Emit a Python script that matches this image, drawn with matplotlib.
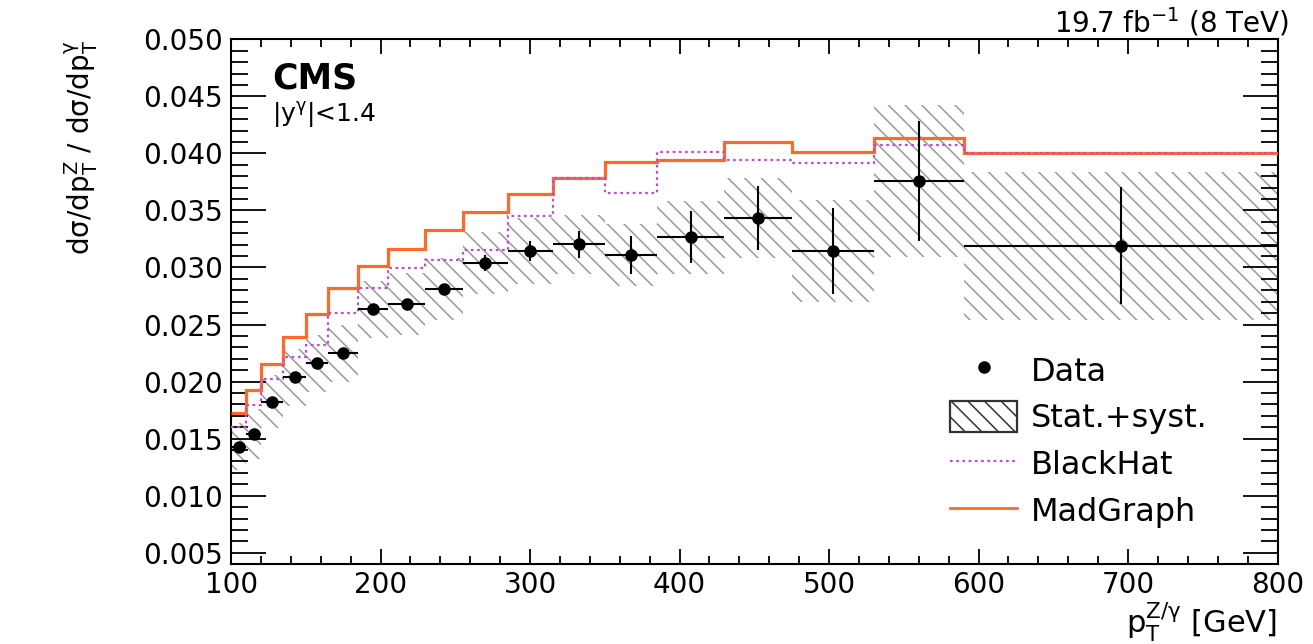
import numpy as np
import matplotlib
matplotlib.use("Agg")
import matplotlib.pyplot as plt
from matplotlib.lines import Line2D
from matplotlib.patches import Patch
from matplotlib.ticker import MultipleLocator, FormatStrFormatter

# pT^{Z/gamma} bin edges [GeV]
edges = [100, 110, 120, 135, 150, 165, 185, 205, 230, 255, 285,
         315, 350, 385, 430, 475, 530, 590, 800]

# ratio dsigma/dpT^Z / dsigma/dpT^gamma, per bin
data = [0.01431, 0.01542, 0.01825, 0.02039, 0.02161, 0.02249, 0.02634, 0.02681,
        0.02809, 0.03037, 0.03145, 0.03203, 0.03110, 0.03265, 0.03431, 0.03145,
        0.03758, 0.03191]
data_stat = [0.0003, 0.0003, 0.0003, 0.0003, 0.0003, 0.0004, 0.0005, 0.0004,
             0.0005, 0.0007, 0.0009, 0.0012, 0.0017, 0.0023, 0.0028, 0.0038,
             0.0053, 0.0051]
data_tot = [0.0021, 0.0022, 0.0023, 0.0025, 0.0025, 0.0025, 0.0025, 0.0027,
            0.0027, 0.0027, 0.0029, 0.0026, 0.0027, 0.0032, 0.0035, 0.0045,
            0.0067, 0.0065]
blackhat = [0.01606, 0.01796, 0.02021, 0.02214, 0.02321, 0.02599, 0.02822, 0.02996,
            0.03066, 0.03150, 0.03450, 0.03787, 0.03650, 0.04009, 0.03942, 0.03915,
            0.04070, 0.04000]
madgraph = [0.01723, 0.01927, 0.02152, 0.02394, 0.02590, 0.02818, 0.03013, 0.03159,
            0.03329, 0.03489, 0.03644, 0.03787, 0.03921, 0.03939, 0.04096, 0.04009,
            0.04131, 0.04003]

ORANGE = "#ff6a2a"
PURPLE = "#b84fcc"
HATCH = "#999999"

plt.rcParams.update({"font.family": "DejaVu Sans", "mathtext.default": "regular",
                     "hatch.linewidth": 1.1, "axes.linewidth": 1.5})

fig = plt.figure(figsize=(13.13, 6.44), dpi=100)
ax = fig.add_axes([0.176, 0.124, 0.797, 0.815])

e = np.array(edges, dtype=float)
lo, hi = e[:-1], e[1:]
ctr, half = 0.5 * (lo + hi), 0.5 * (hi - lo)
val, tot = np.array(data), np.array(data_tot)

# stat+syst band
ax.bar(lo, 2 * tot, bottom=val - tot, width=hi - lo, align="edge", color="none",
       edgecolor=HATCH, hatch=r"\\", linewidth=0, zorder=1)
ax.stairs(madgraph, edges, baseline=None, color=ORANGE, lw=2.3, zorder=3)
ax.stairs(blackhat, edges, baseline=None, color=PURPLE, lw=1.6,
          ls=(0, (1.2, 1.6)), zorder=4)
ax.errorbar(ctr, val, xerr=half, yerr=data_stat, fmt="o", color="black", ms=8,
            elinewidth=1.5, capsize=0, zorder=5)

ax.set_xlim(100, 800)
ax.set_ylim(0.004, 0.050)
ax.xaxis.set_major_locator(MultipleLocator(100))
ax.xaxis.set_minor_locator(MultipleLocator(20))
ax.yaxis.set_major_locator(MultipleLocator(0.005))
ax.yaxis.set_minor_locator(MultipleLocator(0.001))
ax.yaxis.set_major_formatter(FormatStrFormatter("%.3f"))
ax.tick_params(which="both", direction="in", top=True, right=True,
               labelsize=20, width=1.3, pad=6)
ax.tick_params(axis="x", pad=5)
ax.tick_params(axis="y", which="major", length=25)
ax.tick_params(axis="y", which="minor", length=12)
ax.tick_params(axis="x", which="major", length=11)
ax.tick_params(axis="x", which="minor", length=5.5)

ax.set_ylabel("dσ/dp$_T^Z$ / dσ/dp$_T^γ$", fontsize=20, loc="top")
ax.yaxis.set_label_coords(-0.125, 1.0)
ax.set_xlabel("p$_T^{Z/γ}$ [GeV]", fontsize=22, loc="right")
ax.xaxis.set_label_coords(1.0, -0.071)

ax.text(0.039, 0.958, "CMS", transform=ax.transAxes, fontsize=25,
        weight="bold", va="top")
ax.text(0.039, 0.885, "|y$^γ$|<1.4", transform=ax.transAxes, fontsize=18, va="top")
fig.text(0.982, 0.95, "19.7 fb$^{-1}$ (8 TeV)", ha="right", va="baseline",
         fontsize=20)

handles = [Line2D([], [], marker="o", ls="none", color="black", ms=8),
           Patch(facecolor="white", edgecolor="#333333", hatch=r"\\", lw=1.6),
           Line2D([], [], color=PURPLE, lw=1.6, ls=(0, (1.2, 1.6))),
           Line2D([], [], color=ORANGE, lw=2.0)]
labels = ["Data", "Stat.+syst.", "BlackHat", "MadGraph"]
ax.legend(handles, labels, loc="upper left", bbox_to_anchor=(0.687, 0.40),
          frameon=False, fontsize=23, handlelength=2.1, handleheight=1.12,
          handletextpad=0.42, labelspacing=0.42, borderpad=0, borderaxespad=0)

fig.savefig("out.png", dpi=100)
